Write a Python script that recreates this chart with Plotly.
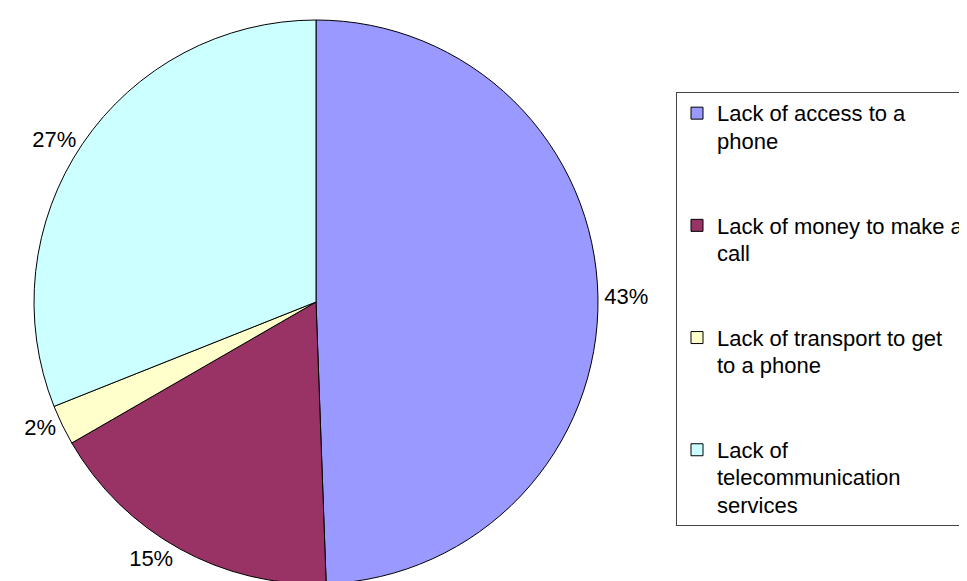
import plotly.graph_objects as go

# Data
categories = [
    "Lack of access to a phone",
    "Lack of money to make a call",
    "Lack of transport to get to a phone",
    "Lack of telecommunication services",
]
# wrapped legend text (as shown in the reference legend)
legend_text = [
    "Lack of access to a<br>phone",
    "Lack of money to make a<br>call",
    "Lack of transport to get<br>to a phone",
    "Lack of<br>telecommunication<br>services",
]
values = [43, 15, 2, 27]
colors = ["#9999FF", "#993366", "#FFFFCC", "#CCFFFF"]

FONT = "Liberation Sans, Arial, Helvetica, sans-serif"

# pad legend entries to equal-height slots; glyphs at 22px, line pitch from 21px
padded = []
for i, t in enumerate(legend_text):
    n = t.count("<br>") + 1
    target = 4 if i < len(legend_text) - 1 else 3
    lines = t.split("<br>") + [" "] * max(0, target - n)
    padded.append("<br>".join(
        '<span style="font-size:22px">%s</span>' % ln for ln in lines))

fig = go.Figure(
    go.Pie(
        labels=padded,
        values=values,
        customdata=categories,
        sort=False,
        direction="clockwise",
        rotation=0,
        marker=dict(colors=colors, line=dict(color="#000000", width=1)),
        texttemplate="%{value}%",
        textposition="outside",
        textfont=dict(family=FONT, size=22, color="#000000"),
        hovertemplate="%{customdata}: %{value}%<extra></extra>",
        domain=dict(x=[26 / 967, 590 / 967], y=[0, 1]),
        automargin=False,
    )
)

fig.update_layout(
    width=967,
    height=581,
    margin=dict(l=0, r=0, t=12, b=5),
    paper_bgcolor="white",
    plot_bgcolor="white",
    font=dict(family=FONT, size=22, color="#000000"),
    showlegend=True,
    legend=dict(
        x=668 / 967,
        xanchor="left",
        y=(576 - 84) / 564,
        yanchor="top",
        bordercolor="#444444",
        borderwidth=1,
        bgcolor="white",
        valign="top",
        font=dict(family=FONT, size=21, color="#000000"),
        itemclick=False,
        itemdoubleclick=False,
    ),
)

fig.write_html("out.html")
